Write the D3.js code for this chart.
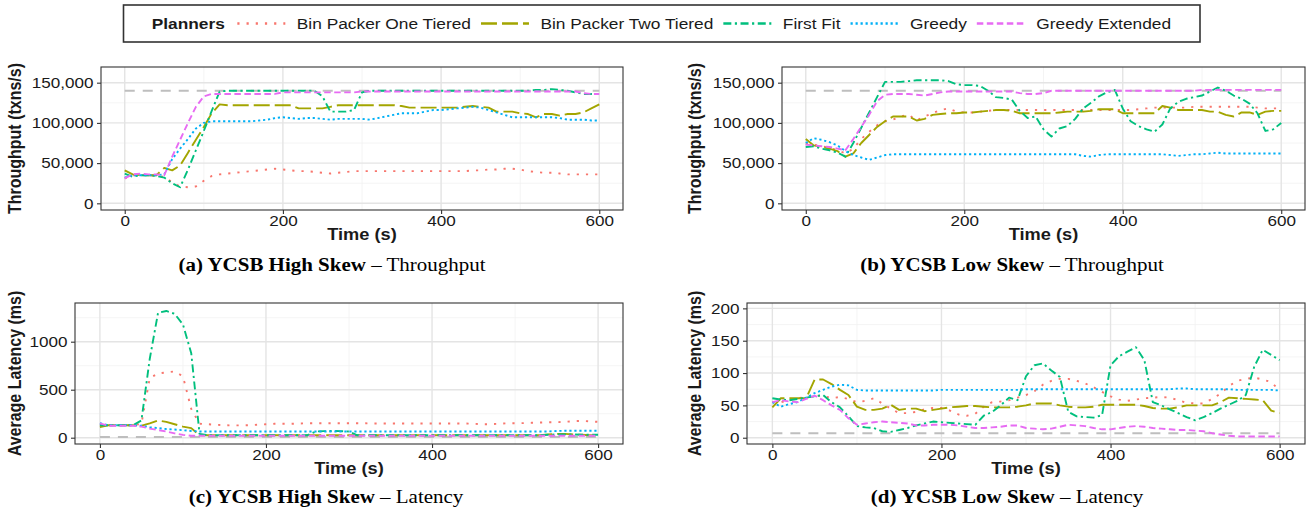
<!DOCTYPE html>
<html>
<head>
<meta charset="utf-8">
<script src="https://cdn.jsdelivr.net/npm/d3@7"></script>
<style>
  body { margin: 0; background: #fff; }
  svg { display: block; }
</style>
</head>
<body>
<svg id="fig" width="1310" height="514"></svg>
<script>
// ---- data -------------------------------------------------------------
// one sample every 10 s, 0..600
var time = d3.range(0, 601, 10);

var planners = ["Bin Packer One Tiered", "Bin Packer Two Tiered", "First Fit", "Greedy", "Greedy Extended"];
var plannerColors = ["#F8766D", "#A3A500", "#00BF7D", "#00B0F6", "#E76BF3"];

var xTicks = [0, 200, 400, 600];
var xMinor = [100, 300, 500];
var tputTicks = [0, 50, 100, 150];        // thousands of txns/s
var tputMinor = [25, 75, 125];
var latHighTicks = [0, 500, 1000];
var latHighMinor = [250, 750, 1250];
var latLowTicks = [0, 50, 100, 150, 200];
var latLowMinor = [25, 75, 125, 175];

// reference (dashed grey) lines
var tputTarget = 140;
var latHighTarget = 8;
var latLowTarget = 7;

// (a) YCSB high skew - throughput (thousands)
var tputHighBp1 = [31,35,35,35,34,33,26,21,20,21, 28,34,36,37,38,39,40,41,42,43, 42,41,40,40,39,38,37,38,39,40,
  40,40,40,40,40,40,40,40,40,40, 40,40,40,40,41,41,42,42,43,43, 42,40,39,38,38,37,36,36,36,36, 36];
var tputHighBp2 = [41,36,35,35,35,44,41,47,63,79, 95,112,123,122,122,122,122,122,122,122, 122,122,118,118,118,118,120,122,122,122,
  122,122,122,122,122,121,119,119,119,119, 119,119,119,120,121,120,119,114,114,114, 112,111,107,111,111,109,111,111,113,118, 123];
var tputHighFf = [37,33,35,35,34,32,25,20,42,66, 90,115,139,140,140,140,140,140,140,140, 140,140,140,140,140,133,114,114,114,116,
  138,140,140,140,140,140,140,140,140,140, 140,140,140,140,140,140,140,140,140,140, 140,140,141,141,142,141,140,138,136,136, 136];
var tputHighGreedy = [32,35,35,35,35,36,55,68,80,93, 100,102,102,102,102,102,102,103,104,106, 107,106,105,106,106,105,104,105,105,105,
  105,104,106,108,110,112,112,112,114,116, 116,117,118,119,120,119,116,113,110,107, 107,107,107,107,107,106,104,104,104,103, 103];
var tputHighGe = [31,36,37,36,36,35,58,79,100,120, 133,136,136,136,136,136,136,136,136,136, 138,138,138,138,138,138,138,138,138,138,
  139,139,139,139,139,139,139,139,139,139, 139,139,139,139,139,139,139,139,139,139, 139,139,139,139,139,139,139,139,137,136, 136];

// (b) YCSB low skew - throughput (thousands)
var tputLowBp1 = [74,73,71,69,66,62,68,80,89,97, 102,104,108,110,103,108,112,116,118,114, 113,113,114,115,116,116,116,116,116,116,
  116,116,116,116,116,116,116,116,116,116, 116,116,117,118,119,119,119,119,119,120, 120,120,120,120,120,120,120,119,118,118, 118];
var tputLowBp2 = [80,72,70,68,65,58,62,75,85,95, 102,108,108,108,103,105,110,111,112,112, 113,113,114,115,116,116,115,112,112,112,
  112,112,113,114,114,114,115,117,117,117, 112,112,112,112,112,121,119,116,116,116, 116,114,114,110,108,113,113,110,114,115, 115];
var tputLowFf = [70,71,68,66,63,58,75,94,113,132, 151,151,151,152,153,153,153,153,152,148, 147,147,146,140,132,131,129,115,106,108,
  92,83,93,96,105,118,125,133,138,141, 118,102,96,92,89,98,118,126,130,132, 134,139,144,140,134,130,124,112,90,92, 100];
var tputLowGreedy = [75,81,79,76,72,65,60,57,54,57, 60,61,61,61,61,61,61,61,61,61, 61,61,61,61,61,61,61,61,61,61,
  61,61,61,61,61,59,58,60,61,61, 61,61,61,61,61,61,60,59,60,61, 61,62,63,62,62,62,62,62,62,62, 62];
var tputLowGe = [73,72,71,70,68,66,80,95,110,127, 135,136,136,136,135,134,136,138,139,139, 139,139,139,139,139,139,139,137,136,136,
  137,140,140,140,140,140,140,140,140,140, 140,140,140,140,140,140,140,140,140,140, 141,141,141,141,141,141,141,141,141,141, 141];

// (c) YCSB high skew - latency (ms)
var latHighBp1 = [130,130,130,130,130,145,620,670,680,690, 640,300,145,140,135,130,128,128,130,135, 140,145,145,145,148,150,150,150,150,150,
  150,150,150,148,148,148,148,148,148,148, 148,148,148,148,148,145,140,140,145,150, 150,152,155,158,160,162,165,172,175,170, 165];
var latHighBp2 = [110,130,130,130,130,125,150,180,165,140, 115,100,25,25,25,25,25,25,25,25, 25,25,25,25,25,25,25,25,25,25,
  25,25,25,25,25,25,25,25,25,25, 25,25,25,25,25,25,25,25,25,25, 25,25,25,25,35,40,40,35,30,25, 25];
var latHighFf = [130,130,130,130,130,180,820,1300,1320,1290, 1180,880,40,25,25,25,25,25,25,25, 25,25,25,25,25,25,65,68,70,68,
  65,25,25,25,25,25,25,25,25,25, 25,25,25,25,25,25,25,25,25,25, 25,25,25,25,30,35,35,35,30,30, 30];
var latHighGreedy = [150,130,130,130,130,125,110,100,90,85, 78,70,65,65,65,65,65,65,65,65, 65,65,65,65,65,65,65,65,65,65,
  65,65,65,65,65,65,65,65,65,65, 65,65,65,65,65,65,65,65,65,65, 65,65,65,65,65,70,72,72,72,72, 72];
var latHighGe = [150,125,125,125,125,115,95,80,65,45, 30,20,20,20,20,20,20,20,20,20, 20,20,20,20,20,20,20,20,20,20,
  20,20,20,20,20,20,20,20,20,20, 20,20,20,20,20,20,20,20,20,20, 20,20,20,20,20,20,20,20,20,20, 20];

// (d) YCSB low skew - latency (ms)
var latLowBp1 = [55,55,58,61,63,65,65,61,63,60, 55,57,61,53,45,38,38,40,44,46, 46,42,36,34,37,48,55,56,58,62,
  66,72,82,88,91,91,88,84,78,71, 64,59,57,59,61,62,63,62,58,54, 53,53,60,68,80,88,91,93,90,86, 73];
var latLowBp2 = [47,61,61,61,61,90,90,83,74,66, 48,43,43,45,51,43,45,45,41,43, 45,47,48,49,49,48,47,47,47,48,
  50,53,53,53,50,48,47,47,48,51, 51,51,51,51,49,46,45,45,47,50, 50,50,50,55,62,61,60,59,58,42, 38];
var latLowFf = [61,59,58,60,62,64,66,55,47,33, 18,16,15,10,9,12,15,19,22,25, 24,23,22,21,20,34,40,50,62,58,
  95,112,115,104,94,40,33,32,31,35, 112,126,133,140,120,55,50,44,38,32, 27,32,38,45,51,57,66,110,136,128, 120];
var latLowGreedy = [55,48,52,55,62,69,74,79,82,81, 74,73,73,73,73,73,73,73,73,73, 74,74,74,74,74,74,74,74,74,74,
  75,75,75,75,75,75,75,75,75,75, 75,75,75,75,75,75,75,75,76,76, 75,75,75,75,75,74,74,74,74,74, 73];
var latLowGe = [55,58,56,55,60,65,58,50,43,30, 20,22,24,25,24,23,22,19,19,20, 20,20,19,17,15,15,16,17,19,19,
  15,14,13,14,17,20,19,18,15,13, 13,15,17,18,17,15,14,13,12,12, 11,10,7,5,3,2,2,2,2,2, 2];

// ---- drawing ------------------------------------------------------------
var fig = d3.select("#fig");
var SX = 1.14;   // the figure was rendered a bit wider than tall
var sans = '"Liberation Sans", Arial, Helvetica, sans-serif';
var serif = '"Liberation Serif", "Times New Roman", serif';
var ink = "#1a1a1a";
var dashes = ["2.2,7", "16,5", "8,3.5,2.2,3.5", "2.2,2.8", "6.5,3.5"];
var lineW = 1.9;

var panels = [
  { box: [101, 67, 623, 210], yDomain: [-8.3, 169.5], yTicks: tputTicks, yMinor: tputMinor,
    fmt: function(d) { return d3.format(",")(d * 1000); }, ref: tputTarget,
    series: [tputHighBp1, tputHighBp2, tputHighFf, tputHighGreedy, tputHighGe],
    ylab: "Throughput (txns/s)", ylabX: 21, xlabY: 240, capX: 332, capY: 271,
    tag: "(a) YCSB High Skew", what: "Throughput" },
  { box: [782, 67, 1305, 210], yDomain: [-8.3, 169.5], yTicks: tputTicks, yMinor: tputMinor,
    fmt: function(d) { return d3.format(",")(d * 1000); }, ref: tputTarget,
    series: [tputLowBp1, tputLowBp2, tputLowFf, tputLowGreedy, tputLowGe],
    ylab: "Throughput (txns/s)", ylabX: 701, xlabY: 240, capX: 1012, capY: 271,
    tag: "(b) YCSB Low Skew", what: "Throughput" },
  { box: [75, 303, 623, 444], yDomain: [-65.6, 1403], yTicks: latHighTicks, yMinor: latHighMinor,
    fmt: d3.format("d"), ref: latHighTarget,
    series: [latHighBp1, latHighBp2, latHighFf, latHighGreedy, latHighGe],
    ylab: "Average Latency (ms)", ylabX: 21, xlabY: 473.5, capX: 326, capY: 503,
    tag: "(c) YCSB High Skew", what: "Latency" },
  { box: [747, 303, 1305, 444], yDomain: [-9.7, 208.3], yTicks: latLowTicks, yMinor: latLowMinor,
    fmt: d3.format("d"), ref: latLowTarget,
    series: [latLowBp1, latLowBp2, latLowFf, latLowGreedy, latLowGe],
    ylab: "Average Latency (ms)", ylabX: 701, xlabY: 473.5, capX: 1007, capY: 503,
    tag: "(d) YCSB Low Skew", what: "Latency" }
];

function drawPanel(p) {
  var x0 = p.box[0], y0 = p.box[1], x1 = p.box[2], y1 = p.box[3];
  var x = d3.scaleLinear().domain([-30, 630]).range([x0, x1]);
  var y = d3.scaleLinear().domain(p.yDomain).range([y1, y0]);
  var g = fig.append("g");

  // minor grid
  g.selectAll("line.ymin").data(p.yMinor).join("line").attr("class", "ymin")
    .attr("x1", x0).attr("x2", x1).attr("y1", y).attr("y2", y)
    .attr("stroke", "#f1f1f1").attr("stroke-width", 0.8);
  g.selectAll("line.xmin").data(xMinor).join("line").attr("class", "xmin")
    .attr("x1", x).attr("x2", x).attr("y1", y0).attr("y2", y1)
    .attr("stroke", "#f1f1f1").attr("stroke-width", 0.8);
  // major grid
  g.selectAll("line.ymaj").data(p.yTicks).join("line").attr("class", "ymaj")
    .attr("x1", x0).attr("x2", x1).attr("y1", y).attr("y2", y)
    .attr("stroke", "#e4e4e4").attr("stroke-width", 1.4);
  g.selectAll("line.xmaj").data(xTicks).join("line").attr("class", "xmaj")
    .attr("x1", x).attr("x2", x).attr("y1", y0).attr("y2", y1)
    .attr("stroke", "#e4e4e4").attr("stroke-width", 1.4);

  // target line
  g.append("line")
    .attr("x1", x(0)).attr("x2", x(600)).attr("y1", y(p.ref)).attr("y2", y(p.ref))
    .attr("stroke", "#bebebe").attr("stroke-width", 2).attr("stroke-dasharray", "10,8");

  var line = d3.line()
    .x(function(d, i) { return x(time[i]); })
    .y(function(d) { return y(d); });

  p.series.forEach(function(vals, k) {
    g.append("path")
      .attr("d", line(vals))
      .attr("fill", "none")
      .attr("stroke", plannerColors[k])
      .attr("stroke-width", lineW)
      .attr("stroke-dasharray", dashes[k])
      .attr("stroke-linejoin", "round");
  });

  // frame
  g.append("rect").attr("x", x0).attr("y", y0).attr("width", x1 - x0).attr("height", y1 - y0)
    .attr("fill", "none").attr("stroke", "#333").attr("stroke-width", 1.1);

  // axes
  var ya = g.append("g").attr("transform", "translate(" + x0 + ",0)")
    .call(d3.axisLeft(y).tickValues(p.yTicks).tickFormat(p.fmt).tickSize(4).tickPadding(2.5));
  var xa = g.append("g").attr("transform", "translate(0," + y1 + ")")
    .call(d3.axisBottom(x).tickValues(xTicks).tickFormat(d3.format("d")).tickSize(4).tickPadding(1.8));
  [ya, xa].forEach(function(a) {
    a.attr("font-family", sans).attr("font-size", 15);
    a.select(".domain").remove();
    a.selectAll(".tick line").attr("stroke", "#333").attr("stroke-width", 1.1);
    a.selectAll(".tick text").attr("fill", ink).attr("transform", "scale(" + SX + ",1)");
  });

  // axis titles
  g.append("text")
    .attr("transform", "translate(" + ((x0 + x1) / 2) + "," + p.xlabY + ") scale(" + SX + ",1)")
    .attr("text-anchor", "middle").attr("font-family", sans).attr("font-size", 16)
    .attr("font-weight", "bold").attr("fill", ink).text("Time (s)");
  g.append("text")
    .attr("transform", "translate(" + p.ylabX + "," + ((y0 + y1) / 2) + ") rotate(-90) scale(1," + SX + ")")
    .attr("text-anchor", "middle").attr("font-family", sans).attr("font-size", 16)
    .attr("font-weight", "bold").attr("fill", ink).text(p.ylab);

  // caption
  var cap = g.append("text")
    .attr("transform", "translate(" + p.capX + "," + p.capY + ") scale(" + SX + ",1)")
    .attr("text-anchor", "middle").attr("font-family", serif).attr("font-size", 18.4).attr("fill", "#000");
  cap.append("tspan").attr("font-weight", "bold").text(p.tag);
  cap.append("tspan").text(" \u2013 " + p.what);
}

panels.forEach(drawPanel);

// ---- legend -------------------------------------------------------------
var lg = fig.append("g").attr("font-family", sans).attr("font-size", 15.2).attr("fill", ink);
lg.append("rect").attr("x", 123.5).attr("y", 5).attr("width", 1076.5).attr("height", 37)
  .attr("fill", "#fff").attr("stroke", "#333").attr("stroke-width", 1.6);

var ly = 23.5;
var cx = 151.7;
var head = lg.append("text").attr("font-weight", "bold").text("Planners")
  .attr("transform", "translate(" + cx + "," + (ly + 5.5) + ") scale(" + SX + ",1)");
cx += head.node().getComputedTextLength() * SX + 12.5;

planners.forEach(function(name, k) {
  lg.append("line")
    .attr("x1", cx).attr("x2", cx + 48).attr("y1", ly).attr("y2", ly)
    .attr("stroke", plannerColors[k]).attr("stroke-width", 2.6)
    .attr("stroke-dasharray", dashes[k]);
  cx += 48 + 11.5;
  var t = lg.append("text").text(name)
    .attr("transform", "translate(" + cx + "," + (ly + 5.5) + ") scale(" + SX + ",1)");
  cx += t.node().getComputedTextLength() * SX + 10;
});
</script>
</body>
</html>
